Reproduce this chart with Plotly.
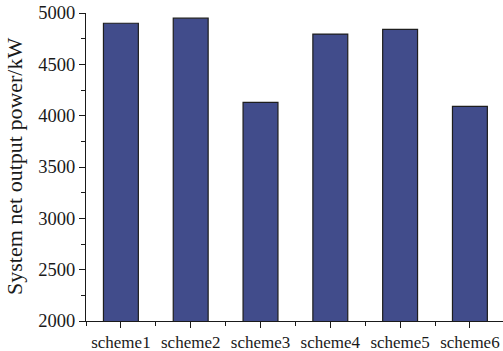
import plotly.graph_objects as go

# Net output power of each scheme
schemes = ["scheme1", "scheme2", "scheme3", "scheme4", "scheme5", "scheme6"]
net_power_kw = [4900, 4950, 4130, 4795, 4840, 4090]
y_ticks = [2000, 2500, 3000, 3500, 4000, 4500, 5000]

positions = list(range(len(schemes)))
serif = "Liberation Serif, Times New Roman, serif"

fig = go.Figure(
    go.Bar(
        x=positions,
        y=net_power_kw,
        width=0.5,
        marker=dict(color="#414c8b", line=dict(color="#1e1e1e", width=1.2)),
    )
)

fig.update_layout(
    width=503,
    height=351,
    margin=dict(l=86, r=0, t=13, b=30),
    paper_bgcolor="white",
    plot_bgcolor="white",
    showlegend=False,
    font=dict(family=serif, color="#1a1a1a"),
)

fig.update_xaxes(
    range=[-0.5, 5.474],
    tickmode="array",
    tickvals=positions,
    ticktext=schemes,
    ticks="outside",
    ticklen=6,
    tickcolor="#1a1a1a",
    tickwidth=1,
    minor=dict(tick0=0.5, dtick=1, ticks="outside", ticklen=4, tickcolor="#1a1a1a", tickwidth=1),
    showline=True,
    linecolor="#1a1a1a",
    linewidth=1,
    showgrid=False,
    zeroline=False,
    tickfont=dict(size=17, family=serif),
    automargin=False,
)

fig.update_yaxes(
    range=[2000, 5000],
    tickmode="array",
    tickvals=y_ticks,
    ticks="outside",
    ticklen=6,
    tickcolor="#1a1a1a",
    tickwidth=1,
    minor=dict(dtick=250, tick0=2000, ticks="outside", ticklen=4, tickcolor="#1a1a1a", tickwidth=1),
    showline=True,
    linecolor="#1a1a1a",
    linewidth=1,
    showgrid=False,
    zeroline=False,
    tickfont=dict(size=18.5, family=serif),
    automargin=False,
)

fig.add_annotation(
    text="System net output power/kW",
    xref="paper",
    yref="paper",
    x=-72 / 417,
    y=0.5,
    xanchor="center",
    yanchor="middle",
    textangle=-90,
    showarrow=False,
    font=dict(size=22, family=serif, color="#1a1a1a"),
)

fig.write_html("out.html")
